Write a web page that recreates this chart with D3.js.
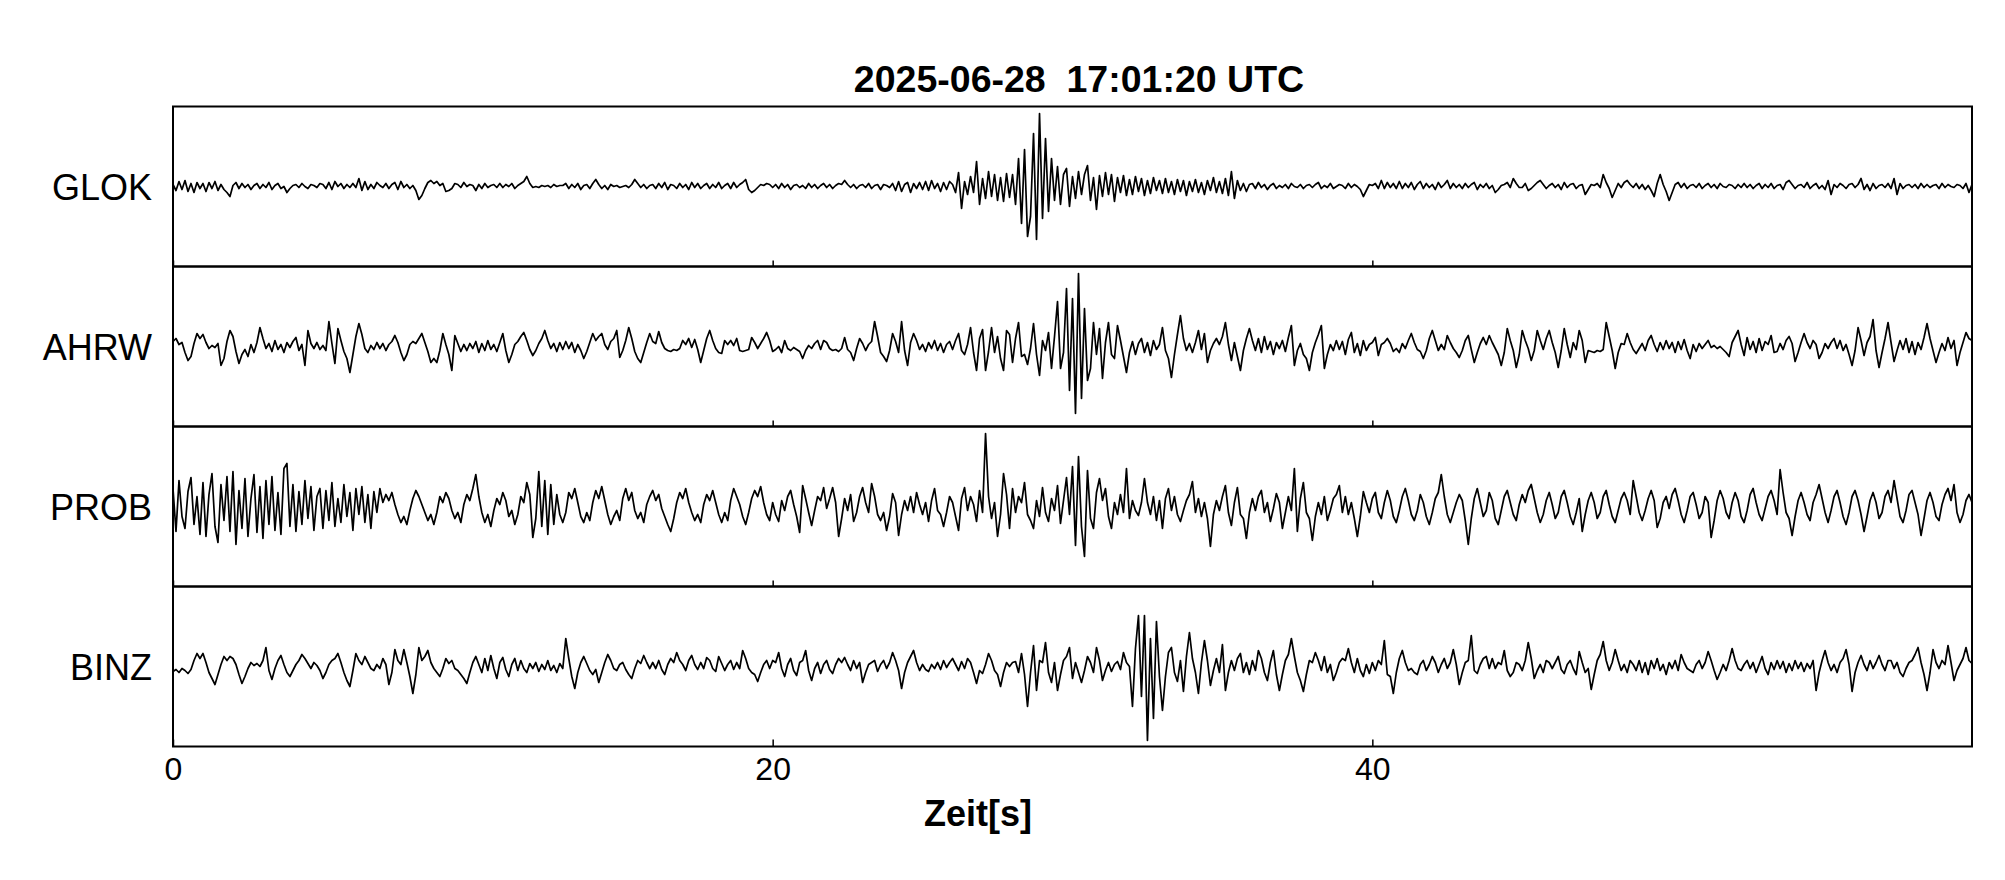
<!DOCTYPE html>
<html>
<head>
<meta charset="utf-8">
<script src="https://cdn.jsdelivr.net/npm/d3@7"></script>
<style>
  body { margin: 0; background: #fff; }
  text { font-family: "Liberation Sans", Arial, Helvetica, sans-serif; fill: #000; }
</style>
</head>
<body>
<div id="chart-area"></div>
<script>
// station names (top to bottom), x tick values, sample interval in seconds
const STATIONS = ["GLOK", "AHRW", "PROB", "BINZ"]
const X_TICKS = [0, 20, 40]
const SAMPLE_DT = 0.1
const TITLE = "2025-06-28  17:01:20 UTC"
const X_LABEL = "Zeit[s]"

// amplitudes, one row per second (10 samples)
const GLOK = [
  2,-4,5,-3,6,-5,3,-6,4,-2,
  3,-5,4,-2,5,-4,2,-3,-6,-10,
  1,4,-2,3,-1,2,-3,1,3,-2,
  2,-1,4,-3,1,3,-2,0,-6,-2,
  1,2,-1,3,0,-2,2,1,-1,3,
  2,-2,4,-3,5,0,3,-2,2,-1,
  3,-1,8,-4,5,-3,2,-2,4,1,
  -1,3,-2,2,4,-3,5,-1,2,-2,
  1,-4,-13,-9,-2,4,6,3,5,1,
  3,-5,-4,-2,3,2,-1,4,0,2,
  1,-4,2,-2,3,-1,1,2,-1,3,
  -1,2,0,3,-2,1,3,5,10,3,
  -1,0,-1,1,0,1,-1,2,0,1,
  1,3,-2,2,-1,3,-3,1,2,-2,
  3,7,2,-2,1,-3,2,0,1,-1,
  0,1,-1,2,7,3,-1,2,-2,1,
  2,-2,3,-1,4,-3,2,1,-2,3,
  -1,2,-3,4,-1,3,-2,1,3,-2,
  2,-1,4,-2,1,3,-2,4,-1,2,
  4,7,-3,-6,-4,-1,2,1,3,2,
  -1,2,-2,3,-1,2,-3,1,2,-1,
  1,-2,3,-1,2,-2,1,3,-1,2,
  -2,1,3,2,6,2,-1,2,-2,1,
  2,-1,3,-2,1,2,-3,2,1,-1,
  3,-4,5,-5,2,4,-6,3,-2,4,
  -3,5,-4,6,-2,3,-5,4,-3,5,
  2,-6,14,-22,5,-8,10,-6,25,-18,
  8,-12,15,-10,12,-14,9,-15,13,-11,
  12,-18,28,-37,37,-50,-30,53,-53,73,
  -32,48,-25,28,-14,20,-18,12,18,-20,
  10,-12,15,-8,12,21,-14,9,-23,11,
  -10,14,-8,12,-15,9,-6,11,-9,7,
  -8,10,-5,8,-9,6,-7,9,-4,6,
  -7,8,-6,5,-8,7,-5,6,-9,5,
  -5,7,-6,4,-8,6,-4,9,-6,5,
  -7,8,-9,15,-12,6,-4,3,-5,2,
  3,-2,4,-1,2,-3,1,3,-2,1,
  -1,2,-2,3,0,-1,2,-2,1,2,
  -1,2,4,-2,1,-1,3,-2,0,2,
  1,-2,3,-1,2,0,-3,-10,-4,2,
  1,3,-2,6,-2,4,-1,3,-2,5,
  -2,3,-1,4,-3,2,5,-2,3,-1,
  2,-3,4,-1,2,6,-2,3,-1,2,
  -2,3,-1,2,4,-3,2,-1,3,-2,
  1,-6,-3,1,2,4,-1,8,3,-1,
  -1,3,-4,-2,1,4,6,2,-2,1,
  3,-1,2,-3,4,-1,2,3,-2,1,
  2,-8,-3,2,1,3,-1,12,4,-2,
  -11,-4,3,-1,4,6,2,-1,3,-2,
  2,-3,1,-4,-10,3,12,2,-5,-14,
  -6,2,4,-1,3,-2,1,2,-1,3,
  -2,1,3,-1,2,-2,3,0,-1,2,
  1,-2,2,-1,3,-1,2,-2,1,3,
  -2,2,-1,3,-2,1,2,-3,4,6,
  2,-2,1,2,-1,4,-2,1,3,-2,
  1,-3,6,-8,2,-1,3,1,-2,2,
  3,-1,2,8,-3,2,-4,3,-2,1,
  2,-1,3,-2,8,-8,3,-2,1,2,
  -1,2,-2,3,-1,2,-1,1,2,-2,
  3,-1,2,0,-1,2,1,-2,3,-6,
  2
]

const AHRW = [
  5,8,2,4,-6,-14,-10,3,13,8,
  12,4,-2,1,-1,3,-19,-12,5,16,
  10,-5,-17,-8,-3,-10,2,-6,4,19,
  8,-2,3,-5,6,-3,2,-6,4,-1,
  5,9,-4,2,-19,16,3,-2,4,-3,
  1,-4,25,3,-17,18,6,-5,-12,-26,
  -8,10,23,12,-2,-6,1,-3,4,-2,
  3,-4,2,5,11,4,-6,-14,-8,2,
  5,3,8,13,4,-5,-16,-12,-16,-4,
  13,2,-8,-24,11,3,-5,2,-4,3,
  -2,5,-6,3,-4,6,-3,2,-5,4,
  13,-4,-16,-8,2,5,10,14,6,-3,
  -9,-4,3,8,16,6,-2,3,-5,4,
  -3,5,-2,4,-6,2,-4,-12,-5,4,
  13,6,10,13,2,-3,5,8,16,-11,
  -4,6,19,8,-5,-12,-16,-6,4,13,
  5,3,15,4,-2,-4,-5,-3,-4,-2,
  6,2,8,-1,7,-3,-16,-4,8,16,
  6,-2,-6,-7,6,2,6,1,8,-4,
  -5,-4,-3,9,4,-2,3,8,14,6,
  -5,-3,0,-6,6,-2,-4,-1,-3,-5,
  -12,-4,1,-2,3,6,-3,6,4,-2,
  -4,-3,-5,-2,9,-3,-6,-14,-2,8,
  3,-4,2,5,25,10,-6,-10,-15,-4,
  13,5,-6,25,-4,-19,4,13,6,-3,
  2,-5,4,-2,6,-4,3,-6,2,5,
  -3,6,13,-4,-8,2,19,-6,-24,8,
  17,-24,-5,19,-6,10,-12,-24,16,12,
  -16,8,24,-10,-8,-18,-2,23,-8,-29,
  6,-4,14,-22,10,45,-22,-6,58,-44,
  48,-67,73,-52,38,-34,-22,24,-8,18,
  -32,4,24,-8,-12,21,6,-10,-26,-6,
  5,-8,3,8,-6,4,-9,6,-3,2,
  19,-4,-12,-31,-8,12,31,8,-4,3,
  -6,4,16,-3,13,-16,-4,3,8,2,
  10,24,2,-14,4,-10,-24,-4,8,18,
  6,-4,8,-6,10,-3,5,-8,4,-2,
  6,-5,9,21,-19,-4,3,-8,-12,-24,
  -6,4,12,21,-22,-8,2,-4,6,-3,
  5,-8,7,14,-6,3,-9,6,-4,2,
  4,9,-9,2,4,8,3,-5,-2,-6,
  3,-2,6,13,4,-3,-5,-12,-4,8,
  16,6,-4,2,-3,11,4,-2,-6,-11,
  -4,6,11,-3,-16,-6,3,9,2,11,
  4,-2,-8,-19,-6,18,6,-4,-21,-8,
  16,6,-2,-14,-4,16,6,-3,8,16,
  4,-6,-21,-4,18,2,-11,4,-3,16,
  6,-16,-4,-5,-6,-4,-5,-3,24,10,
  -4,-22,-6,3,2,13,4,-3,-7,-2,
  3,-4,6,11,2,-5,4,-3,6,-2,
  4,-6,5,-3,7,-4,-12,2,-5,3,
  -2,2,6,-1,1,-2,0,-3,-6,-10,
  4,10,16,2,-9,9,-3,5,-6,8,
  -4,5,2,11,-6,-5,3,-3,6,10,
  3,-15,-6,4,13,4,-2,6,2,-12,
  -6,3,-2,4,8,-2,6,-4,2,-8,
  -19,-4,19,6,-9,4,10,27,-4,-21,
  -6,8,24,4,-15,-4,6,-3,8,-6,
  5,-8,4,-3,9,23,8,-4,-16,-6,
  3,-4,9,-2,6,-19,-6,4,14,8,
  6
]

const PROB = [
  18,-25,26,-10,-22,15,29,-18,10,-28,
  24,-30,12,33,-20,-36,22,-14,30,-25,
  35,-38,16,-22,28,-30,8,32,-26,20,
  -32,26,-18,30,-24,14,-28,38,43,-20,
  22,-25,15,-18,26,-12,20,-24,10,18,
  -22,16,-14,24,-20,8,-16,22,-10,14,
  -24,18,-8,20,-16,12,-22,15,-6,18,
  4,12,6,14,2,-8,-16,-10,-18,-4,
  8,16,10,2,-6,-14,-8,-18,-6,10,
  4,14,8,-4,-12,-6,-16,2,12,6,
  18,32,10,-6,-16,-8,-20,-4,8,2,
  14,6,-10,-4,-18,-8,10,4,24,12,
  -31,-12,35,-20,26,-28,22,-18,12,-8,
  -16,-6,14,8,18,4,-10,-16,-6,-14,
  4,16,8,20,6,-8,-18,-10,-4,-14,
  8,18,6,14,-4,-12,-6,-16,2,10,
  16,6,12,-2,-10,-18,-25,-12,4,14,
  8,18,4,-6,-14,-8,-16,2,12,6,
  16,4,-8,-16,-6,-14,6,18,10,2,
  -10,-18,-6,8,16,10,20,4,-8,-14,
  4,-8,-15,6,-4,10,16,2,-10,-26,
  21,8,-6,-19,-4,10,6,19,-2,8,
  19,4,-30,-12,8,-4,12,-15,-6,10,
  19,4,-6,23,10,-8,-14,-6,-24,-10,
  13,4,-29,-8,6,-4,10,-6,14,2,
  -8,4,-15,6,18,-4,-8,-20,-6,10,
  4,-10,-24,8,19,-4,10,2,-15,16,
  -6,73,10,-12,4,-30,-8,33,12,-22,
  18,-6,10,4,24,-8,-14,-22,6,-10,
  19,-6,-15,8,-4,21,-17,6,29,-8,
  40,-39,50,-20,-50,36,-12,-22,14,28,
  6,18,-10,-22,4,-8,12,-6,38,-12,
  6,-4,-9,4,28,4,-8,10,-14,6,
  -22,8,18,-4,10,-8,-15,-4,6,12,
  25,-6,8,-10,4,-12,-40,-8,6,-4,
  10,21,-6,-19,4,19,-8,-12,-32,-6,
  8,-4,10,16,-6,4,-15,-2,13,4,
  -22,-6,10,-4,38,-25,8,24,-6,-12,
  -34,-10,4,-8,10,-14,-4,8,12,21,
  -6,10,-8,4,-12,-30,-10,15,4,-6,
  8,14,-6,-12,4,16,6,-10,-16,-4,
  10,18,6,-8,-14,-4,12,4,-10,-18,
  -6,8,14,32,10,-8,-16,-6,4,12,
  6,-14,-38,-12,8,18,4,-10,-4,14,
  6,-12,-18,-4,10,16,4,-8,-14,2,
  12,4,16,22,8,-6,-16,-8,6,14,
  2,-12,-6,10,16,4,-10,-18,-6,8,
  -25,-8,6,14,4,-12,-6,10,16,2,
  -10,-16,-4,8,14,6,-8,26,10,-6,
  -14,-4,8,16,6,-21,-12,4,10,-2,
  12,18,6,-8,-16,-4,10,14,2,-12,
  -6,10,4,-31,-14,6,16,8,-6,-12,
  4,14,6,-10,-16,-4,12,18,4,-8,
  -14,-2,10,16,6,-8,37,14,-6,-12,
  -29,-10,6,14,4,-8,-14,4,12,22,
  8,-6,-16,-4,10,16,4,-10,-18,-6,
  10,16,6,-8,-25,-10,6,14,4,-12,
  -6,10,16,4,26,8,-10,-16,-4,12,
  16,4,-8,-29,-12,6,14,4,-10,-14,
  2,12,18,6,22,-6,-16,-8,6,12,
  4
]

const BINZ = [
  -5,-3,-6,-2,-4,-7,-3,6,13,8,
  13,4,-6,-12,-18,-8,2,10,6,10,
  8,2,-8,-17,-10,-2,4,1,3,0,
  6,19,-4,-13,-2,6,11,2,-6,-10,
  -4,2,6,12,8,3,-2,4,1,-4,
  -12,-6,2,6,8,13,4,-6,-14,-20,
  -4,13,6,2,10,4,-2,-4,2,-2,
  8,2,-18,-6,17,6,2,17,4,-10,
  -27,-8,19,6,10,16,4,-2,-6,-10,
  -2,8,3,6,-2,-4,-8,-12,-17,-6,
  4,10,2,-6,8,-4,11,-2,-12,4,
  9,-3,-10,2,8,-4,6,-2,-6,3,
  -2,4,-5,2,-3,6,-4,1,-6,3,
  -2,28,8,-10,-22,-6,4,10,3,-4,
  -8,-3,-16,-6,4,12,6,-2,-4,2,
  4,-3,-8,-12,-2,6,3,11,4,-2,
  4,-2,6,-3,-8,2,8,4,14,6,
  2,-4,6,11,2,-3,4,-2,9,6,
  -2,-5,10,3,-4,2,6,-3,4,-2,
  16,8,-2,-6,-8,-15,-6,2,6,-2,
  6,4,14,-2,-10,2,8,-4,-9,4,
  6,16,-4,-14,-2,4,-7,2,6,-3,
  -7,2,8,4,9,2,-4,6,-2,4,
  -16,-6,2,4,6,-5,2,6,-2,4,
  14,6,-4,-22,-6,4,10,16,4,-4,
  2,-3,-5,2,-2,4,-3,6,-1,4,
  8,2,-4,5,-2,8,4,-6,-17,-4,
  -7,2,13,6,-4,-8,-20,-6,4,0,
  4,5,-6,13,-8,-40,-6,21,-24,6,
  4,24,-6,-16,4,-24,-8,6,10,19,
  -12,4,-6,-16,-4,10,4,-6,19,6,
  -14,-4,4,-5,2,5,-3,14,4,0,
  -40,18,51,-30,51,-74,28,-52,45,-10,
  -44,-10,14,19,-6,-15,6,-25,10,34,
  8,-6,-27,4,26,6,-19,-4,8,-6,
  22,-24,-6,6,-4,8,13,-6,4,-8,
  6,-4,16,8,-6,-14,4,16,-8,-24,
  -8,6,12,28,10,-6,-14,-25,-8,6,
  4,14,6,-4,10,-6,2,-14,-6,4,
  8,6,18,4,-6,8,-4,-10,2,-7,
  4,-4,6,2,26,-8,-10,-27,-6,8,
  16,4,-4,-2,-6,-8,2,6,-4,2,
  10,4,-6,2,8,-2,4,17,2,-18,
  -6,4,6,31,-4,-7,2,8,10,-2,
  8,-2,4,2,16,-4,-10,-6,4,2,
  -4,6,24,8,-12,-4,2,-6,6,4,
  -2,4,10,-3,-7,2,6,-2,-8,15,
  4,-6,-2,-23,-8,6,12,25,6,-4,
  4,17,6,-4,2,-6,6,2,-4,6,
  -6,4,-8,6,-2,8,-4,2,-8,4,
  -2,6,-4,12,4,-2,-4,-6,2,6,
  -2,4,15,6,-4,-13,-6,2,-4,6,
  18,6,-2,-4,2,6,-2,4,-6,2,
  10,-2,-8,4,-3,6,-2,5,-6,3,
  -4,6,-2,4,-5,3,-2,6,-24,-6,
  6,16,4,-4,2,-6,4,8,17,2,
  -25,-6,4,11,2,-4,6,-2,4,11,
  2,-4,6,6,-2,4,-6,-10,-2,4,
  6,12,19,4,-8,-24,-6,17,4,-2,
  6,2,21,4,-14,-4,2,8,19,6,
  3
]

const TRACES = [GLOK, AHRW, PROB, BINZ]

const MARGIN = { LEFT: 173, RIGHT: 33, TOP: 106.5, BOTTOM: 133.5 }
const WIDTH = 2005 - MARGIN.LEFT - MARGIN.RIGHT
const PANEL_H = 160

const svg = d3.select("#chart-area").append("svg")
  .attr("width", 2005)
  .attr("height", 880)

svg.append("rect")
  .attr("width", 2005)
  .attr("height", 880)
  .attr("fill", "#fff")

const g = svg.append("g")
  .attr("transform", `translate(${MARGIN.LEFT}, ${MARGIN.TOP})`)

const x = d3.scaleLinear()
  .domain([0, 60])
  .range([0, WIDTH])

// title
svg.append("text")
  .attr("x", 1079)
  .attr("y", 92)
  .attr("text-anchor", "middle")
  .attr("font-size", "37.5px")
  .attr("font-weight", "bold")
  .style("white-space", "pre")
  .text(TITLE)

STATIONS.forEach((name, i) => {
  const top = i * PANEL_H
  const panel = g.append("g")
    .attr("transform", `translate(0, ${top})`)

  const y = d3.scaleLinear()
    .domain([-80, 80])
    .range([PANEL_H, 0])

  const line = d3.line()
    .x((d, j) => x(j * SAMPLE_DT))
    .y(d => y(d))

  panel.append("path")
    .datum(TRACES[i])
    .attr("fill", "none")
    .attr("stroke", "#000")
    .attr("stroke-width", 1.7)
    .attr("stroke-linejoin", "round")
    .attr("d", line)

  // station label
  panel.append("text")
    .attr("x", 152 - MARGIN.LEFT)
    .attr("y", PANEL_H / 2 + 13)
    .attr("text-anchor", "end")
    .attr("font-size", "36px")
    .text(name)

  // inner ticks on the bottom edge of every panel, labels only on the last
  const last = i === STATIONS.length - 1
  const axis = panel.append("g")
    .attr("transform", `translate(0, ${PANEL_H})`)
    .call(d3.axisBottom(x)
      .tickValues(X_TICKS)
      .tickSize(last ? -7 : -6)
      .tickPadding(11)
      .tickFormat(last ? d3.format("d") : ""))
  axis.select(".domain").remove()
  axis.selectAll(".tick line")
    .attr("stroke", "#000")
    .attr("stroke-width", 1.5)
  axis.selectAll(".tick text")
    .attr("font-size", "32px")
    .attr("font-family", "Liberation Sans, Arial, sans-serif")
    .attr("fill", "#000")

  // panel frame
  panel.append("rect")
    .attr("width", WIDTH)
    .attr("height", PANEL_H)
    .attr("fill", "none")
    .attr("stroke", "#000")
    .attr("stroke-width", 2)
})

// x label
svg.append("text")
  .attr("x", 978)
  .attr("y", 826)
  .attr("text-anchor", "middle")
  .attr("font-size", "36px")
  .attr("font-weight", "bold")
  .text(X_LABEL)
</script>
</body>
</html>
